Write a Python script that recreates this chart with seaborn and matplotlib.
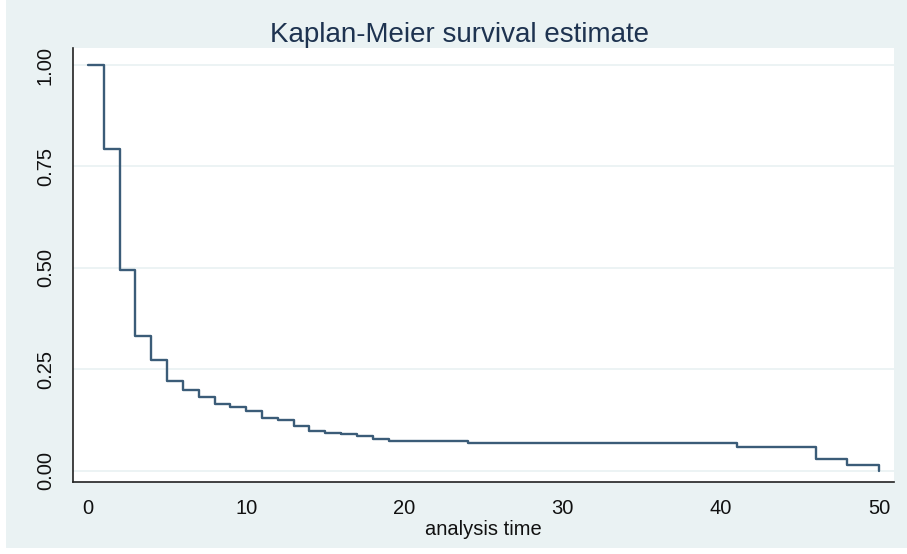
import seaborn as sns
import pandas as pd
import matplotlib.pyplot as plt
from matplotlib.patches import Rectangle

# KM step points (time, survival)
times = [0, 1, 2, 3, 4, 5, 6, 7, 8, 9, 10, 11, 12, 13, 14, 15, 16, 17, 18, 19, 24, 41, 46, 48, 50]
surv = [1.0, 0.793, 0.494, 0.332, 0.272, 0.221, 0.199, 0.181, 0.164, 0.157, 0.147,
        0.129, 0.124, 0.109, 0.097, 0.094, 0.090, 0.086, 0.078, 0.074, 0.069,
        0.059, 0.028, 0.014, 0.0]
xticks = [0, 10, 20, 30, 40, 50]
yticks = [0.0, 0.25, 0.5, 0.75, 1.0]
ytick_labels = ['0.00', '0.25', '0.50', '0.75', '1.00']

km = pd.DataFrame({'time': times, 'survival': surv})

sns.set_style('white')
plt.rcParams['font.family'] = ['Liberation Sans', 'DejaVu Sans']

bg = '#EAF2F3'
fig = plt.figure(figsize=(9.07, 5.54), dpi=100, facecolor='white')
# stata graph region (image has a thin white margin left/bottom)
fig.patches.append(Rectangle((6 / 907, 6 / 554), 1, 1, transform=fig.transFigure,
                             facecolor=bg, edgecolor='none', zorder=-10))

ax = fig.add_axes([73 / 907, 1 - 482 / 554, (894 - 73) / 907, (482 - 48) / 554])
ax.set_facecolor('white')

sns.lineplot(data=km, x='time', y='survival', ax=ax, color='#3B5C78',
             linewidth=1.7, drawstyle='steps-post', estimator=None)

ax.set_xlim(-0.95, 50.95)
ax.set_ylim(-0.028, 1.042)
ax.set_xticks(xticks)
ax.set_xticklabels([str(t) for t in xticks])
ax.set_yticks(yticks)
ax.set_yticklabels(ytick_labels, rotation=90, va='center')

for y in yticks:
    ax.axhline(y, color=bg, linewidth=1.3, zorder=0)

for s in ['top', 'right']:
    ax.spines[s].set_visible(False)
for s in ['left', 'bottom']:
    ax.spines[s].set_color('#222222')
    ax.spines[s].set_linewidth(1.2)

ax.tick_params(axis='both', direction='out', length=8, width=1.1, color='#222222',
               labelsize=14.5, labelcolor='#111111', pad=4)
ax.tick_params(axis='y', pad=5)

ax.set_xlabel('analysis time', fontsize=14.5, color='#111111', labelpad=2)
ax.set_ylabel('')

fig.text(460 / 907, 1 - 35 / 554, 'Kaplan-Meier survival estimate', ha='center',
         va='center', fontsize=20, color='#1E3350')

fig.savefig('out.png', dpi=100, facecolor=fig.get_facecolor())
